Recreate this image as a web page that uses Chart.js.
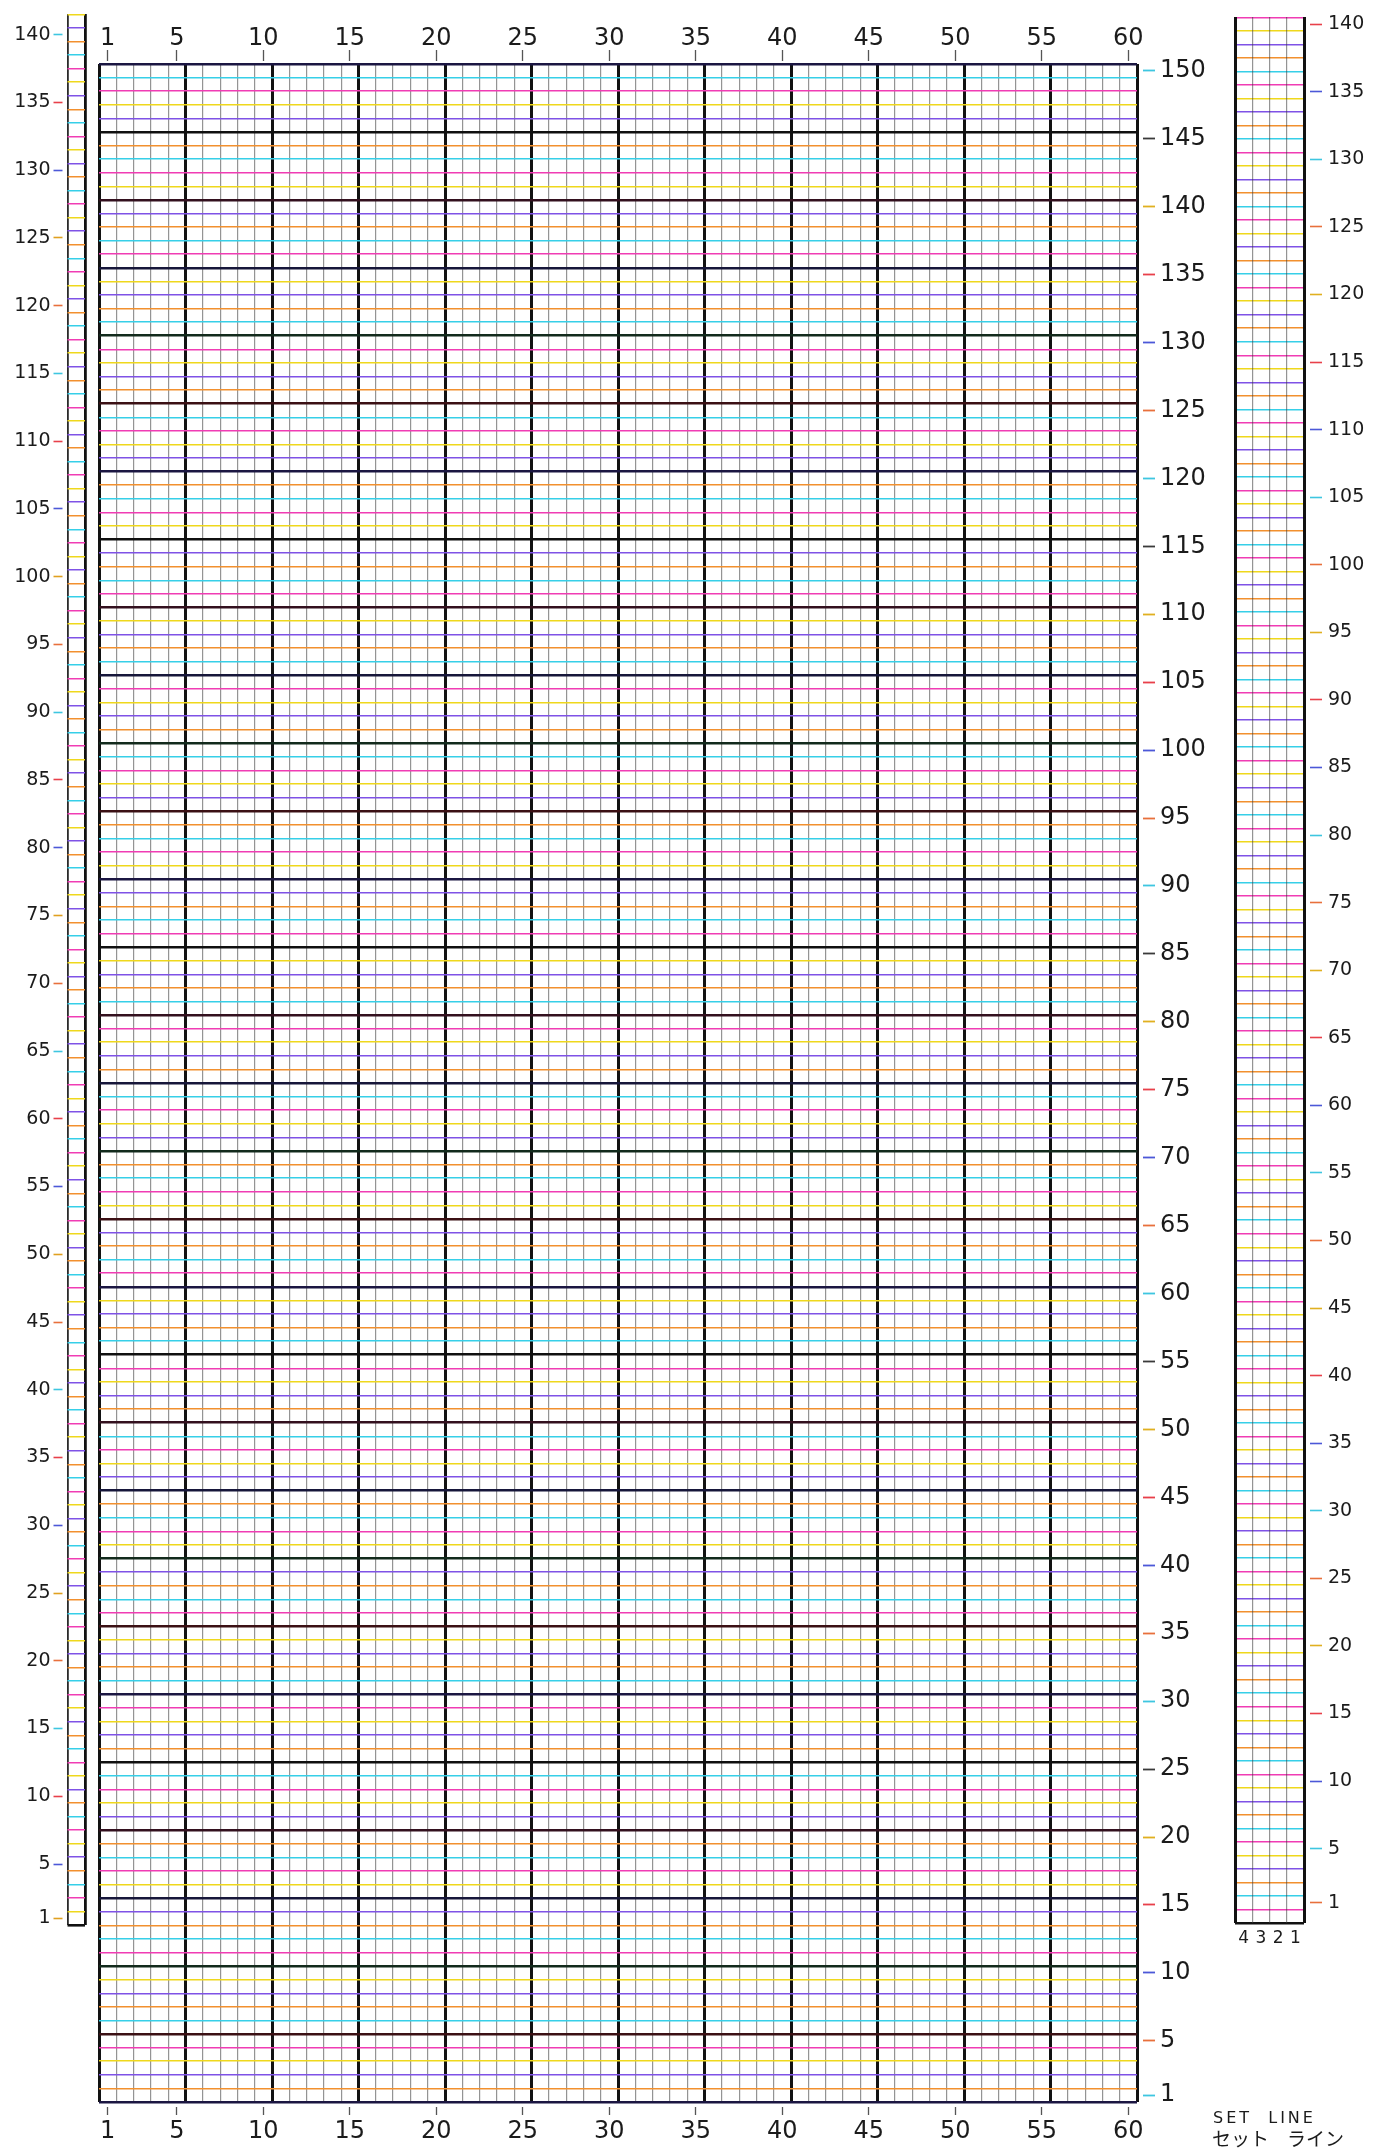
<!DOCTYPE html>
<html>
<head>
<meta charset="utf-8">
<script src="https://cdn.jsdelivr.net/npm/chart.js@4/dist/chart.umd.min.js"></script>
<style>
  body { margin: 0; background: #fff; }
  #wrap { position: relative; width: 1383px; height: 2150px; overflow: hidden; background: #fff; }
  canvas { position: absolute; left: 0; top: 0; }
  .note { position: absolute; color: #1b1b1b; white-space: pre; font-family: "DejaVu Sans"; }
  .jp { font-family: "Noto Sans CJK JP"; font-size: 19px; }
</style>
</head>
<body>
<div id="wrap">
  <canvas id="leftStrip" width="1383" height="2150"></canvas>
  <canvas id="mainGrid" width="1383" height="2150"></canvas>
  <canvas id="setStrip" width="1383" height="2150"></canvas>
  <div class="note" style="left:1213px;top:2108px;font-size:16px;letter-spacing:3px">SET  LINE</div>
  <div class="note jp" style="left:1212px;top:2124px">セット</div>
  <div class="note jp" style="left:1287px;top:2124px">ライン</div>
</div>
<script>
// main sheet: 60 needles x 150 rows
const mainColumns = 60;
const mainRows = 150;
const mainColumnLabels = [1, 5, 10, 15, 20, 25, 30, 35, 40, 45, 50, 55, 60];
const mainRowLabels = [1, 5, 10, 15, 20, 25, 30, 35, 40, 45, 50, 55, 60, 65, 70, 75,
  80, 85, 90, 95, 100, 105, 110, 115, 120, 125, 130, 135, 140, 145, 150];

// narrow strip on the left: 1 column x 141 rows
const leftRows = 141;
const leftRowLabels = [1, 5, 10, 15, 20, 25, 30, 35, 40, 45, 50, 55, 60, 65, 70,
  75, 80, 85, 90, 95, 100, 105, 110, 115, 120, 125, 130, 135, 140];

// set line strip on the right: 4 columns x rows 0..140
const setColumns = 4;
const setRowsTop = 140;
const setColumnLabels = [1, 2, 3, 4];
const setRowLabels = [1, 5, 10, 15, 20, 25, 30, 35, 40, 45, 50, 55, 60, 65, 70,
  75, 80, 85, 90, 95, 100, 105, 110, 115, 120, 125, 130, 135, 140];

const thinColors = ['#f2902e', '#7f52e6', '#efd81c', '#f03cb4', '#36cfe8'];
const heavyColors = ['#1b1642', '#3b1014', '#122a1c', '#16163a', '#33101e', '#101010'];
const dashColors = ['#3ec6e0', '#e8703c', '#4c58d8', '#e8404a', '#e0b020', '#3a3a3a'];
const ink = '#1b1b1b';
const font = 'DejaVu Sans';

const boundaries = (lo, hi) => {
  const out = [];
  for (let v = lo; v <= hi + 1e-9; v += 1) out.push(v);
  return out;
};

function gridAxis(position, min, max, styleFn, reverse) {
  return {
    type: 'linear', position, min, max, reverse: !!reverse,
    afterBuildTicks: s => { s.ticks = boundaries(min, max).map(v => ({ value: v })); },
    afterFit: s => { if (s.isHorizontal()) s.height = 0; else s.width = 0; },
    ticks: { display: false },
    border: { display: false },
    grid: {
      drawTicks: false,
      color: c => c.tick ? styleFn(c.tick.value).color : 'transparent',
      lineWidth: c => c.tick ? styleFn(c.tick.value).width : 0
    }
  };
}

function labelAxis(position, min, max, values, o) {
  return {
    type: 'linear', position, min, max, reverse: !!o.reverse,
    afterBuildTicks: s => { s.ticks = values.map(v => ({ value: v })); },
    afterFit: s => { if (s.isHorizontal()) s.height = o.size; else s.width = o.size; },
    border: { display: false },
    grid: {
      drawOnChartArea: false,
      drawTicks: o.tickLength > 0,
      tickLength: o.tickLength || 0,
      tickWidth: o.tickWidth || 1.3,
      tickColor: c => o.tickColors ? o.tickColors[c.index % o.tickColors.length] : '#555',
      tickBorderDash: o.dash || [],
      tickBorderDashOffset: o.dashOffset || 0
    },
    ticks: {
      autoSkip: false, maxRotation: 0, padding: o.padding,
      color: ink, font: { family: font, size: o.fontSize },
      callback: v => String(v)
    }
  };
}

function baseOptions(padding, scales) {
  return {
    type: 'scatter',
    data: { datasets: [] },
    options: {
      responsive: false, animation: false, events: [], devicePixelRatio: 1,
      layout: { padding },
      plugins: { legend: { display: false }, tooltip: { enabled: false } },
      scales
    }
  };
}

// ---- main grid ----
const mainV = v => ((v - 0.5) % 5 === 0)
  ? { color: '#121212', width: 3 }
  : { color: 'rgba(60,60,60,0.55)', width: 1.2 };
const mainH = v => {
  const k = Math.round(v - 0.5);
  if (k % 5 === 0) return { color: heavyColors[(k / 5) % heavyColors.length], width: 2.5 };
  const n = k - Math.floor(k / 5) - 1;
  return { color: thinColors[n % thinColors.length], width: 1.5 };
};
new Chart(document.getElementById('mainGrid'), baseOptions(
  { left: 99, top: 0, right: 0, bottom: 0 },
  {
    x: gridAxis('bottom', 0.5, mainColumns + 0.5, mainV),
    y: gridAxis('left', 0.5, mainRows + 0.5, mainH),
    xt: labelAxis('top', 0.5, mainColumns + 0.5, mainColumnLabels,
      { size: 64, tickLength: 14, dash: [11, 60], padding: -3, fontSize: 24 }),
    xb: labelAxis('bottom', 0.5, mainColumns + 0.5, mainColumnLabels,
      { size: 48, tickLength: 13, dash: [8, 5], dashOffset: 8, padding: 2, fontSize: 24 }),
    yr: labelAxis('right', 0.5, mainRows + 0.5, mainRowLabels,
      { size: 246, tickLength: 18, dash: [12, 6], dashOffset: 12, padding: 5, fontSize: 24,
        tickWidth: 1.8, tickColors: dashColors })
  }
));

// ---- left strip ----
const leftV = v => v < 1 ? { color: '#2a2a2a', width: 1.8 } : { color: '#111', width: 2.8 };
const leftH = v => {
  const k = Math.round(v - 0.5);
  if (k === 0) return { color: '#111', width: 2.6 };
  return { color: thinColors[(k + 1) % thinColors.length], width: 1.5 };
};
new Chart(document.getElementById('leftStrip'), baseOptions(
  { left: 0, top: 11, right: 1298, bottom: 225 },
  {
    x: gridAxis('top', 0.5, 1.5, leftV),
    y: gridAxis('right', 0.5, leftRows + 0.5, leftH),
    yl: labelAxis('left', 0.5, leftRows + 0.5, leftRowLabels,
      { size: 67.5, tickLength: 14, dash: [9, 60], padding: 3, fontSize: 19,
        tickWidth: 1.6, tickColors: ['#e0a020', '#4c58d8', '#e8404a', '#3ec6e0', '#e8703c'] })
  }
));

// ---- set line strip ----
const setV = v => (v === 0.5 || v === setColumns + 0.5)
  ? { color: '#111', width: 3 }
  : { color: 'rgba(60,60,60,0.55)', width: 1.2 };
const setH = v => {
  const k = Math.round(v + 0.5);
  if (k === 0) return { color: '#111', width: 2.6 };
  return { color: thinColors[(k + 2) % thinColors.length], width: 1.5 };
};
new Chart(document.getElementById('setStrip'), baseOptions(
  { left: 1235, top: 13, right: 0, bottom: 0 },
  {
    y: gridAxis('left', -0.5, setRowsTop + 0.5, setH),
    x: gridAxis('top', 0.5, setColumns + 0.5, setV, true),
    xb: labelAxis('bottom', 0.5, setColumns + 0.5, setColumnLabels,
      { size: 227, tickLength: 0, padding: 5, fontSize: 17, reverse: true }),
    yr: labelAxis('right', -0.5, setRowsTop + 0.5, setRowLabels,
      { size: 79, tickLength: 18, dash: [12, 6], dashOffset: 12, padding: 6, fontSize: 19,
        tickWidth: 1.6, tickColors: ['#e8703c', '#3ec6e0', '#4c58d8', '#e8404a', '#e0b020'] })
  }
));
</script>
</body>
</html>
